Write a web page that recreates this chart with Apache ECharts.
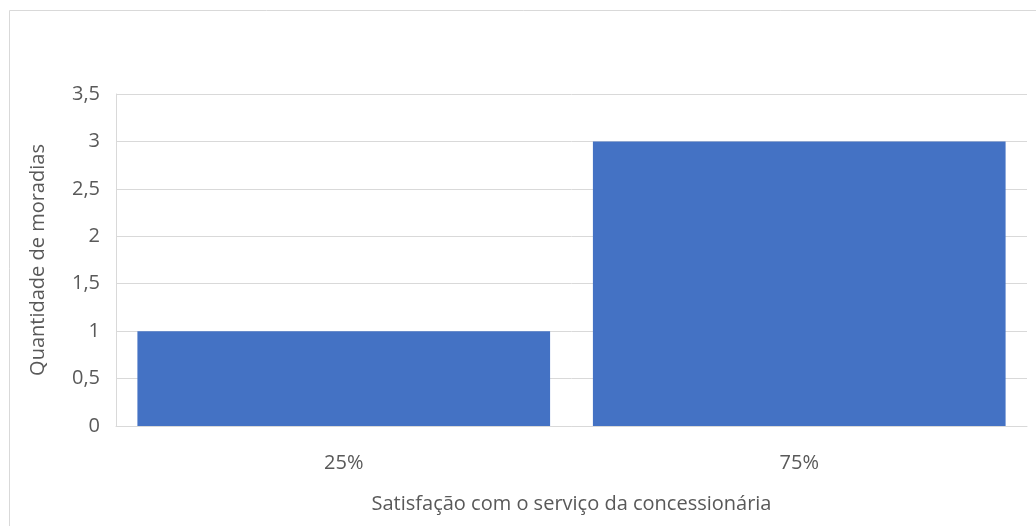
<!DOCTYPE html>
<html>
<head>
<meta charset="utf-8">
<script src="https://cdn.jsdelivr.net/npm/echarts@6/dist/echarts.min.js"></script>
<style>
  html, body { margin: 0; padding: 0; background: #fff; }
  #chart { width: 1036px; height: 526px; }
</style>
</head>
<body>
<div id="chart"></div>
<script>
// Satisfaction levels and number of dwellings per level
const categories = ['25%', '75%'];
const dwellings = [1, 3];
const xTitle = 'Satisfação com o serviço da concessionária';
const yTitle = 'Quantidade de moradias';

const font = '"Open Sans", "Noto Sans", sans-serif';
const textGray = '#595959';
const lineGray = '#d9d9d9';

const chart = echarts.init(document.getElementById('chart'));
chart.setOption({
  animation: false,
  graphic: [{
    type: 'rect',
    shape: { x: 9.5, y: 10.5, width: 1040, height: 530 },
    style: { fill: 'none', stroke: lineGray, lineWidth: 1 },
    silent: true
  }],
  grid: { left: 116, right: 9, top: 94, bottom: 100 },
  xAxis: {
    type: 'category',
    data: categories,
    name: xTitle,
    nameLocation: 'middle',
    nameGap: 68,
    nameTextStyle: { color: textGray, fontFamily: font, fontSize: 20 },
    axisLine: { show: true, lineStyle: { color: lineGray } },
    axisTick: { show: false },
    axisLabel: { color: textGray, fontFamily: font, fontSize: 20, margin: 27 }
  },
  yAxis: {
    type: 'value',
    min: 0,
    max: 3.5,
    interval: 0.5,
    name: yTitle,
    nameLocation: 'middle',
    nameGap: 68,
    nameTextStyle: { color: textGray, fontFamily: font, fontSize: 20 },
    axisLine: { show: true, lineStyle: { color: lineGray } },
    axisTick: { show: false },
    axisLabel: {
      color: textGray, fontFamily: font, fontSize: 20, margin: 16,
      formatter: v => String(v).replace('.', ',')
    },
    splitLine: { lineStyle: { color: lineGray } }
  },
  series: [{
    type: 'bar',
    data: dwellings,
    barCategoryGap: '9.4%',
    itemStyle: { color: '#4472c4' }
  }]
});
</script>
</body>
</html>
